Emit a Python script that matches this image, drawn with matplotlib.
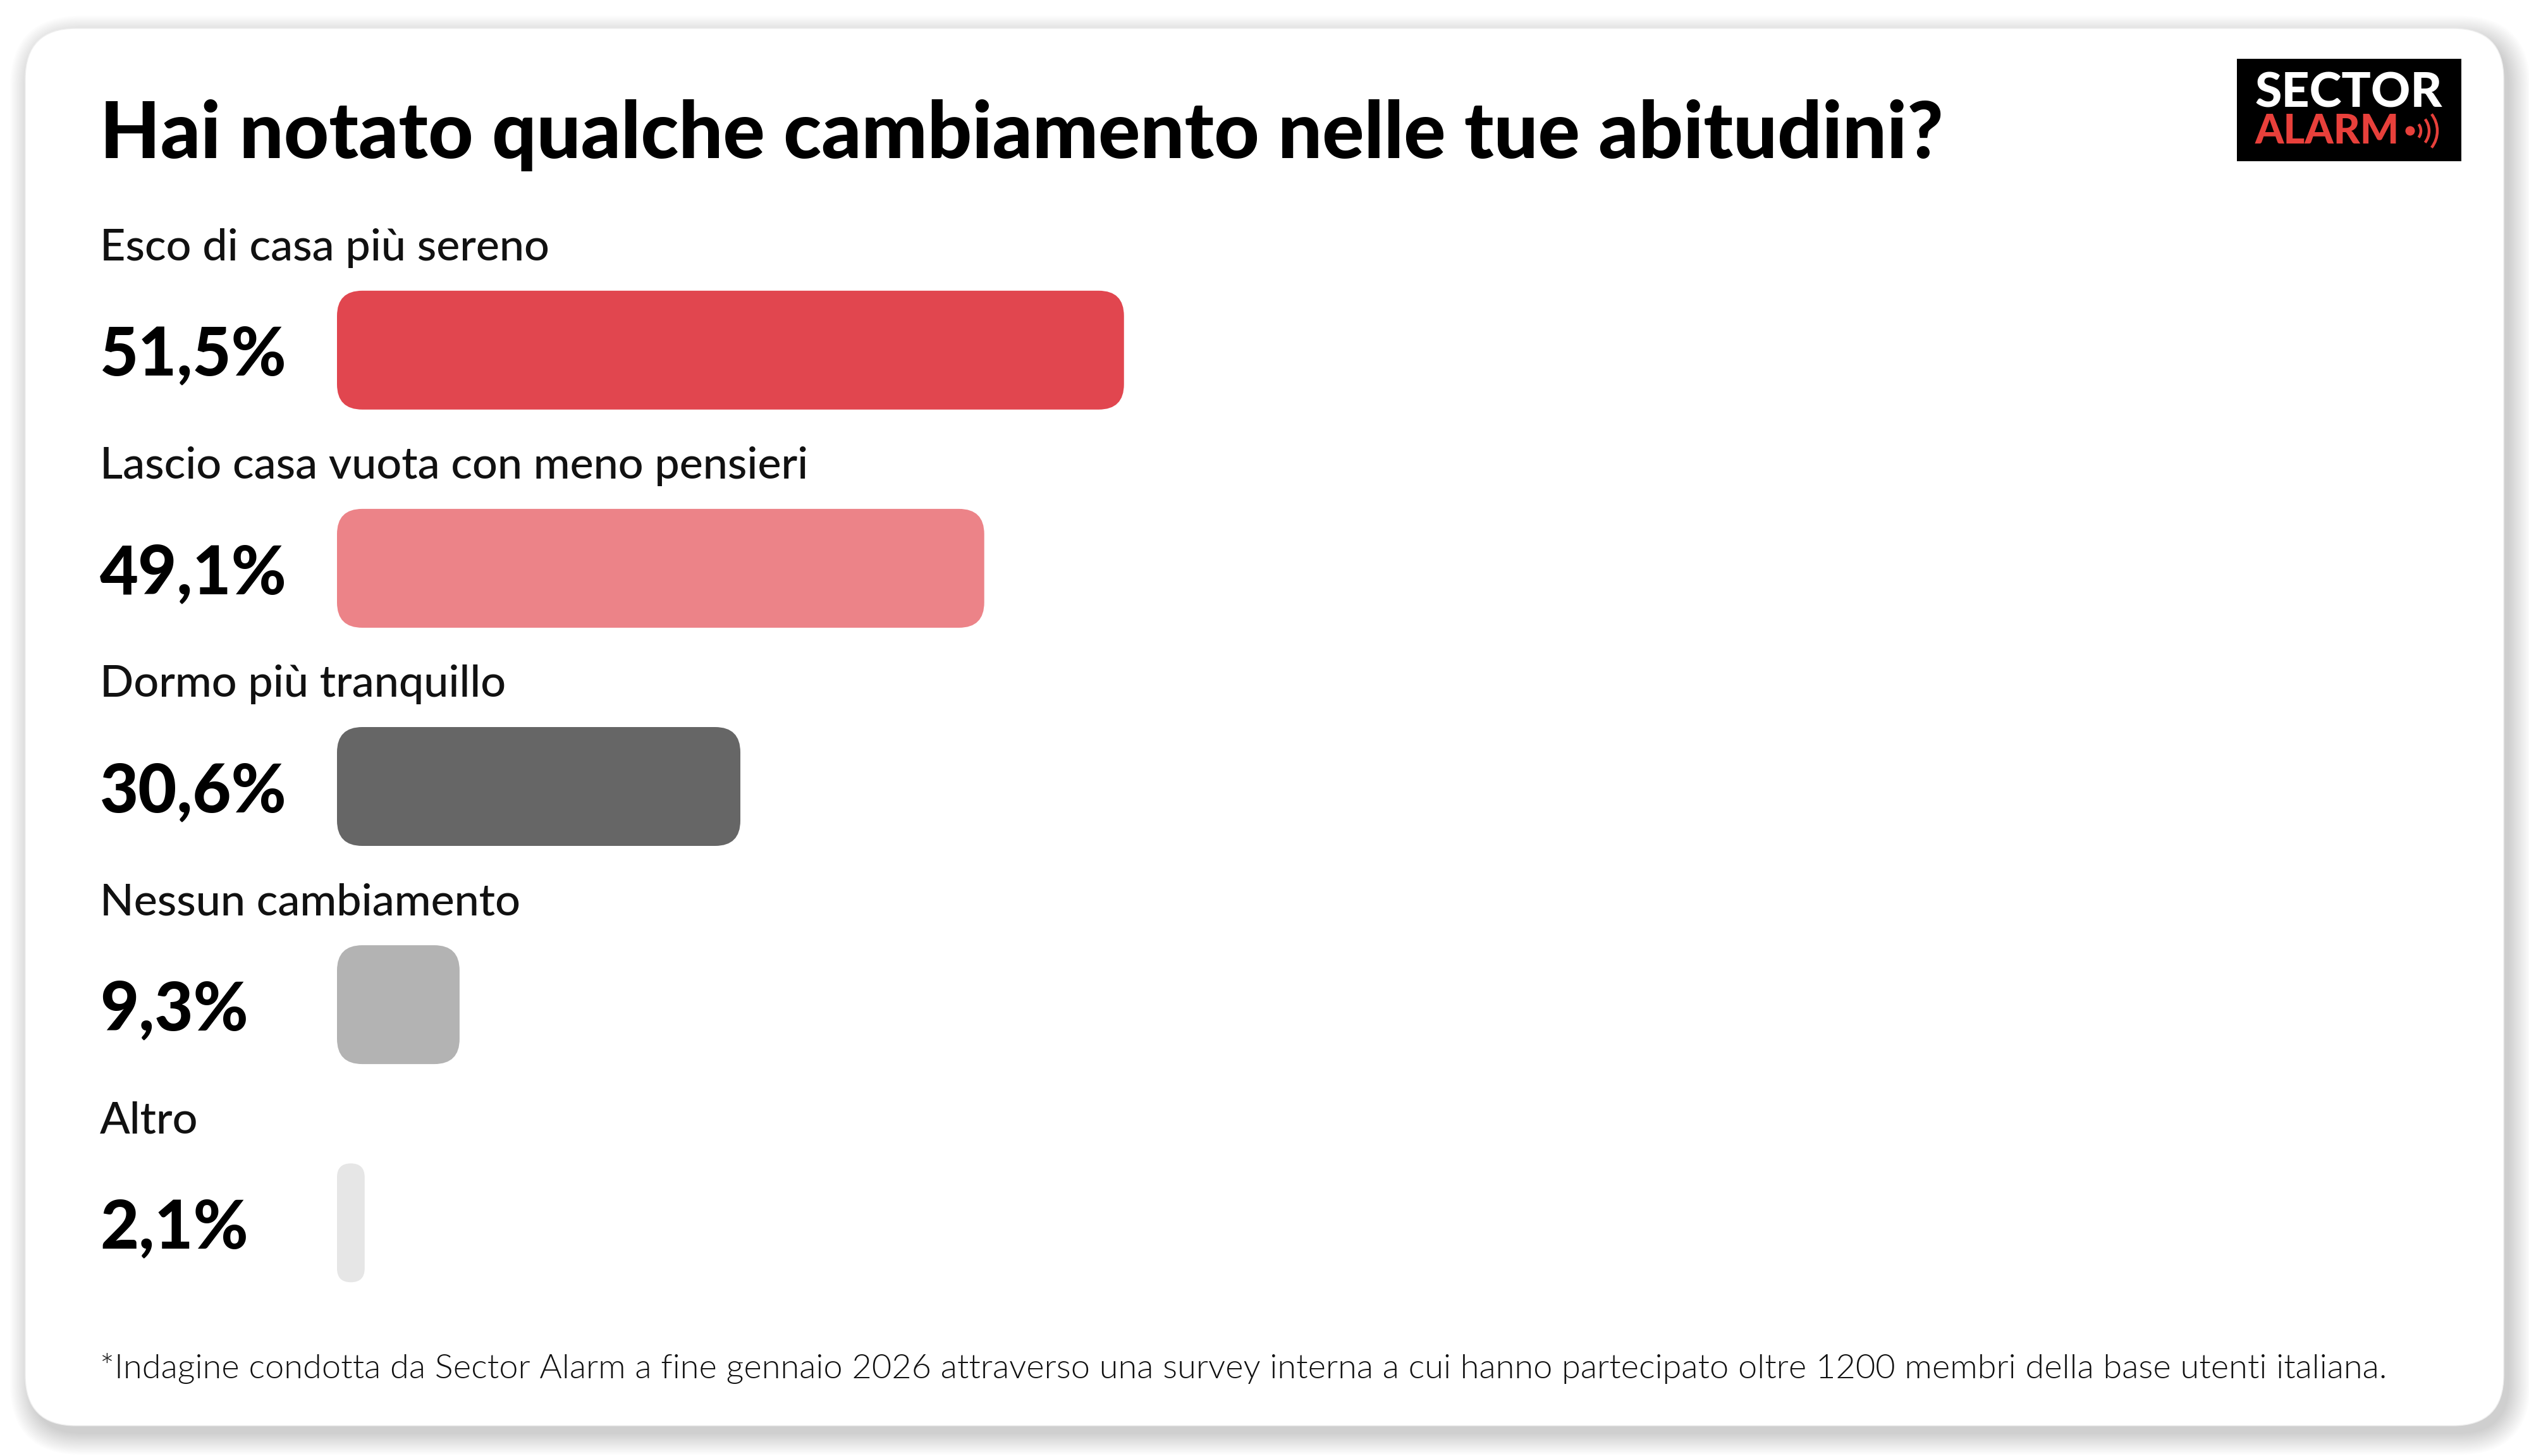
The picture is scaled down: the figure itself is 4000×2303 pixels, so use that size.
import numpy as np
import matplotlib
matplotlib.use("Agg")
import matplotlib.pyplot as plt
from matplotlib.patches import FancyBboxPatch, Rectangle, Circle, Arc
from matplotlib import transforms

# ---------------- data ----------------
title = "Hai notato qualche cambiamento nelle tue abitudini?"
categories = [
    "Esco di casa più sereno",
    "Lascio casa vuota con meno pensieri",
    "Dormo più tranquillo",
    "Nessun cambiamento",
    "Altro",
]
pct_labels = ["51,5%", "49,1%", "30,6%", "9,3%", "2,1%"]
# bar lengths as drawn in the picture (the first bar is drawn longer than its label)
bar_lengths = [59.7, 49.1, 30.6, 9.3, 2.1]
bar_colors = ["#E1464F", "#EC8388", "#666666", "#B3B3B3", "#E6E6E6"]
footnote = ("*Indagine condotta da Sector Alarm a fine gennaio 2026 attraverso una survey interna "
            "a cui hanno partecipato oltre 1200 membri della base utenti italiana.")
logo_top = "SECTOR"
logo_bottom = "ALARM"

# ---------------- figure ----------------
W, H = 4000, 2303
fig = plt.figure(figsize=(W / 100, H / 100), dpi=100)
fig.patch.set_facecolor("white")

bg = fig.add_axes([0, 0, 1, 1], zorder=0)
bg.set_xlim(0, W)
bg.set_ylim(H, 0)
bg.axis("off")

# card shadow
cx, cy, cw, ch, cr = 40, 45, 3920, 2210, 80
for k in range(16):
    bg.add_patch(FancyBboxPatch((cx + 9 - k * 2.2, cy + 13 - k * 2.2), cw + k * 4.4, ch + k * 4.4,
                                boxstyle=f"round,pad=0,rounding_size={cr + k * 2.2}",
                                fc="black", ec="none", alpha=0.011, zorder=1))
bg.add_patch(FancyBboxPatch((cx, cy), cw, ch, boxstyle=f"round,pad=0,rounding_size={cr}",
                            fc="white", ec="#EFEFEF", lw=1.0, zorder=2))

# ---------------- bars ----------------
x0_px, px_per_x = 533, 20.85
yc0_px, px_per_y = 553.8, 345.1
ax_top = yc0_px - 0.5 * px_per_y
ax_bot = yc0_px + 4.5 * px_per_y
ax = fig.add_axes([x0_px / W, 1 - ax_bot / H, 100 * px_per_x / W, (ax_bot - ax_top) / H], zorder=1)
ax.set_xlim(0, 100)
ax.set_ylim(4.5, -0.5)
ax.axis("off")
ax.patch.set_alpha(0)

bar_h = 188 / px_per_y
aspect = px_per_x / px_per_y
r_x = 40 / px_per_x
for i, (v, c) in enumerate(zip(bar_lengths, bar_colors)):
    r = min(r_x, v / 2)
    ax.add_patch(FancyBboxPatch((0, i - bar_h / 2), v, bar_h,
                                boxstyle=f"round,pad=0,rounding_size={r}",
                                mutation_aspect=aspect, fc=c, ec="none"))

trans = transforms.blended_transform_factory(bg.transData, ax.transData)
cat_texts, pct_texts = [], []
for i, (cat, pl) in enumerate(zip(categories, pct_labels)):
    cat_texts.append(ax.text(158, i - 142 / px_per_y, cat, transform=trans, ha="left", va="baseline",
                             family="Lato", weight=500, fontsize=40, color="#111111"))
    pct_texts.append(ax.text(158, i + 40 / px_per_y, pl, transform=trans, ha="left", va="baseline",
                             family="Lato", weight=900, fontsize=60, color="black"))

t_title = bg.text(158, 250, title, ha="left", va="baseline", family="Lato", weight=900,
                  fontsize=80, color="black", zorder=5)
t_foot = bg.text(158, 2180, footnote, ha="left", va="baseline", family="Lato", weight=300,
                 fontsize=30, color="#111111", zorder=5)

# ---------------- logo ----------------
bg.add_patch(Rectangle((3538, 93), 355, 162, fc="black", ec="none", zorder=5))
t_l1 = bg.text(3567, 170, logo_top, ha="left", va="baseline", family="Lato", weight=900,
               fontsize=30, color="white", zorder=6)
t_l2 = bg.text(3567, 227, logo_bottom, ha="left", va="baseline", family="Lato", weight=900,
               fontsize=30, color="#E8403B", zorder=6)
bg.add_patch(Circle((3812, 207), 7.5, fc="#E8403B", ec="none", zorder=6))
for rr in (17, 30, 43):
    bg.add_patch(Arc((3812, 207), 2 * rr, 2 * rr, theta1=-38, theta2=38, color="#E8403B",
                     lw=3.2, zorder=6))

# ---------------- fit text widths ----------------
fig.canvas.draw()
rend = fig.canvas.get_renderer()


def fit(t, target):
    w = t.get_window_extent(rend).width
    t.set_fontsize(t.get_fontsize() * target / w)
    return t.get_fontsize()


fit(t_title, 3079 - 158)
fit(t_foot, 3768 - 158)
fit(t_l1, 3863 - 3567)
fit(t_l2, 3795 - 3567)
fs_cat = fit(cat_texts[1], 1278 - 158)
for t in cat_texts:
    t.set_fontsize(fs_cat)
fs_pct = fit(pct_texts[2], 454 - 158)
for t in pct_texts:
    t.set_fontsize(fs_pct)

fig.savefig("out.png", dpi=100, facecolor="white")
